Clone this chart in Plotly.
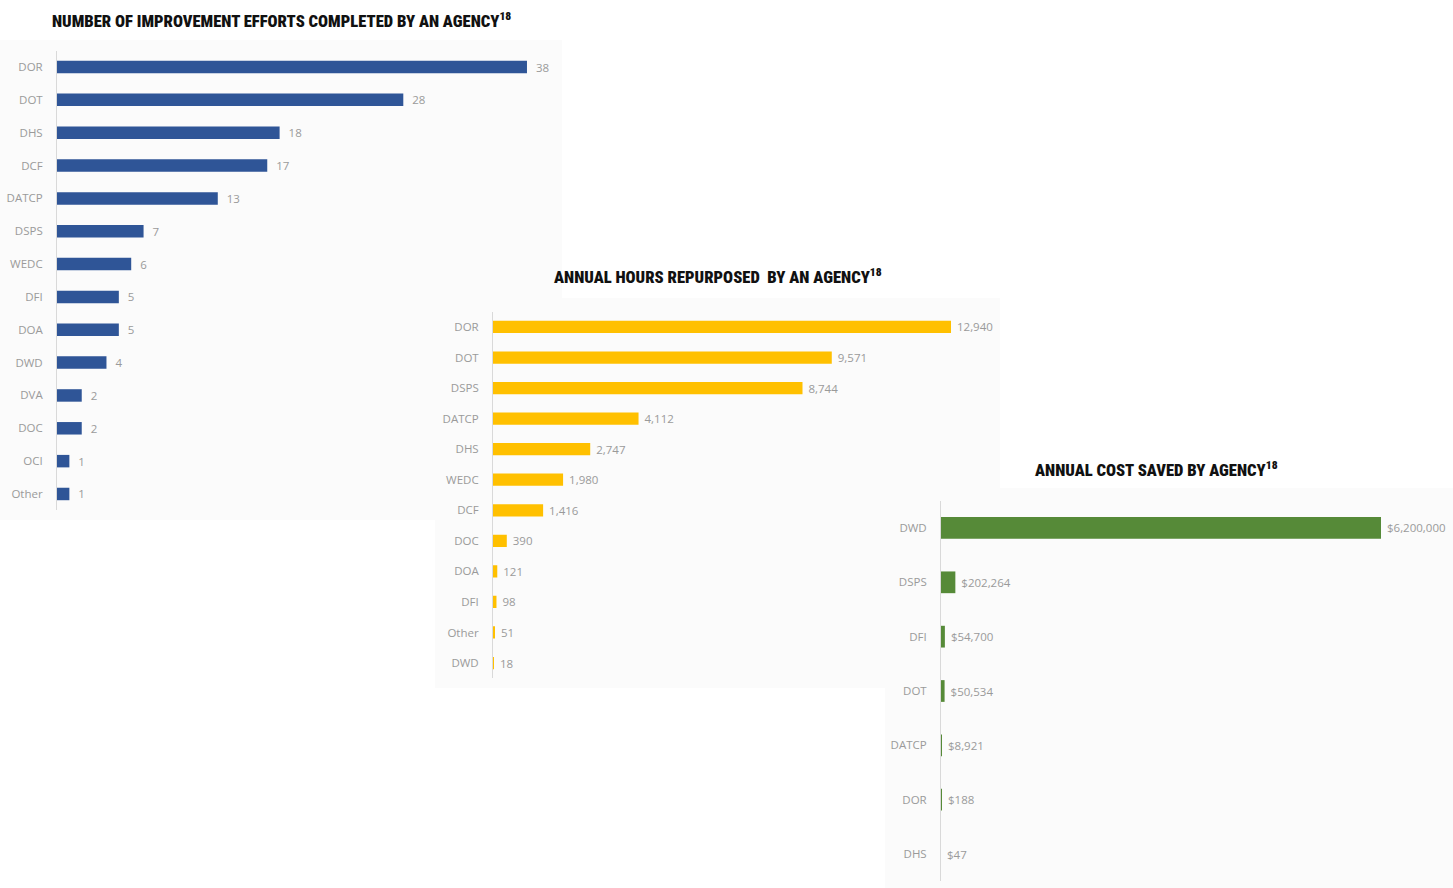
import plotly.graph_objects as go

# Chart 1: number of improvement efforts completed by an agency
eff_agencies = ["DOR", "DOT", "DHS", "DCF", "DATCP", "DSPS", "WEDC", "DFI", "DOA", "DWD", "DVA", "DOC", "OCI", "Other"]
eff_values = [38, 28, 18, 17, 13, 7, 6, 5, 5, 4, 2, 2, 1, 1]

# Chart 2: annual hours repurposed by an agency
hrs_agencies = ["DOR", "DOT", "DSPS", "DATCP", "DHS", "WEDC", "DCF", "DOC", "DOA", "DFI", "Other", "DWD"]
hrs_values = [12940, 9571, 8744, 4112, 2747, 1980, 1416, 390, 121, 98, 51, 18]

# Chart 3: annual cost saved by agency
cost_agencies = ["DWD", "DSPS", "DFI", "DOT", "DATCP", "DOR", "DHS"]
cost_values = [6200000, 202264, 54700, 50534, 8921, 188, 47]

W, H = 1453, 888
LABEL_FONT = dict(family="Open Sans, Liberation Sans, sans-serif", size=11.5, color="#9a9a9a")
TICK_FONT = dict(family="Open Sans, Liberation Sans, sans-serif", size=11.5, color="#9a9a9a")
TITLE_FONT = dict(family="Roboto Condensed, Roboto, Liberation Sans, sans-serif",
                  size=16.6, color="#111111", weight=900)

fig = go.Figure()

fig.add_trace(go.Bar(
    x=eff_values, y=eff_agencies, orientation="h",
    marker=dict(color="#2f5597", line=dict(width=0)),
    texttemplate="\u00a0\u00a0%{x}", textposition="outside", constraintext="none",
    textfont=LABEL_FONT, cliponaxis=False,
    xaxis="x", yaxis="y", width=0.38,
))
fig.add_trace(go.Bar(
    x=hrs_values, y=hrs_agencies, orientation="h",
    marker=dict(color="#ffc000", line=dict(width=0)),
    texttemplate="\u00a0%{x:,}", textposition="outside", constraintext="none",
    textfont=LABEL_FONT, cliponaxis=False,
    xaxis="x2", yaxis="y2", width=0.4,
))
fig.add_trace(go.Bar(
    x=cost_values, y=cost_agencies, orientation="h",
    marker=dict(color="#568a38", line=dict(width=0)),
    texttemplate="\u00a0$%{x:,}", textposition="outside", constraintext="none",
    textfont=LABEL_FONT, cliponaxis=False,
    xaxis="x3", yaxis="y3", width=0.4,
))

def px_x(p):
    return p / W

def px_y(p):
    return 1 - p / H

xcommon = dict(showgrid=False, zeroline=False, showticklabels=False, showline=False, ticks="", fixedrange=True)
ycommon = dict(showgrid=False, zeroline=False, showline=True, linecolor="#d9d9d9", linewidth=1,
               ticks="", tickfont=TICK_FONT, autorange="reversed", ticklabelstandoff=11, fixedrange=True)

fig.update_layout(
    width=W, height=H,
    margin=dict(l=0, r=0, t=0, b=0),
    paper_bgcolor="white", plot_bgcolor="rgba(0,0,0,0)",
    showlegend=False,
    xaxis=dict(domain=[px_x(57), px_x(560)], range=[0, 40.67], anchor="y", **xcommon),
    yaxis=dict(domain=[px_y(510.4), px_y(50.6)], anchor="x", type="category", **ycommon),
    xaxis2=dict(domain=[px_x(493), px_x(1000)], range=[0, 14324], anchor="y2", **xcommon),
    yaxis2=dict(domain=[px_y(678.3), px_y(311.7)], anchor="x2", type="category", **ycommon),
    xaxis3=dict(domain=[px_x(941), 1.0], range=[0, 7214500], anchor="y3", **xcommon),
    yaxis3=dict(domain=[px_y(881.2), px_y(500.8)], anchor="x3", type="category", **ycommon),
    shapes=[
        dict(type="rect", xref="paper", yref="paper", layer="below",
             x0=0, x1=px_x(562), y0=px_y(520), y1=px_y(40),
             fillcolor="#fbfbfb", line=dict(width=0)),
        dict(type="rect", xref="paper", yref="paper", layer="below",
             x0=px_x(435), x1=px_x(1000), y0=px_y(688), y1=px_y(298),
             fillcolor="#fbfbfb", line=dict(width=0)),
        dict(type="rect", xref="paper", yref="paper", layer="below",
             x0=px_x(885), x1=1.0, y0=0, y1=px_y(488),
             fillcolor="#fbfbfb", line=dict(width=0)),
    ],
    annotations=[
        dict(text="NUMBER OF IMPROVEMENT EFFORTS COMPLETED BY AN AGENCY<sup>18</sup>",
             xref="paper", yref="paper", x=px_x(281), y=px_y(20), xanchor="center", yanchor="middle",
             showarrow=False, font=TITLE_FONT),
        dict(text="ANNUAL HOURS REPURPOSED  BY AN AGENCY<sup>18</sup>",
             xref="paper", yref="paper", x=px_x(718), y=px_y(276), xanchor="center", yanchor="middle",
             showarrow=False, font=TITLE_FONT),
        dict(text="ANNUAL COST SAVED BY AGENCY<sup>18</sup>",
             xref="paper", yref="paper", x=px_x(1156), y=px_y(469), xanchor="center", yanchor="middle",
             showarrow=False, font=TITLE_FONT),
    ],
)

fig.write_html("out.html")
